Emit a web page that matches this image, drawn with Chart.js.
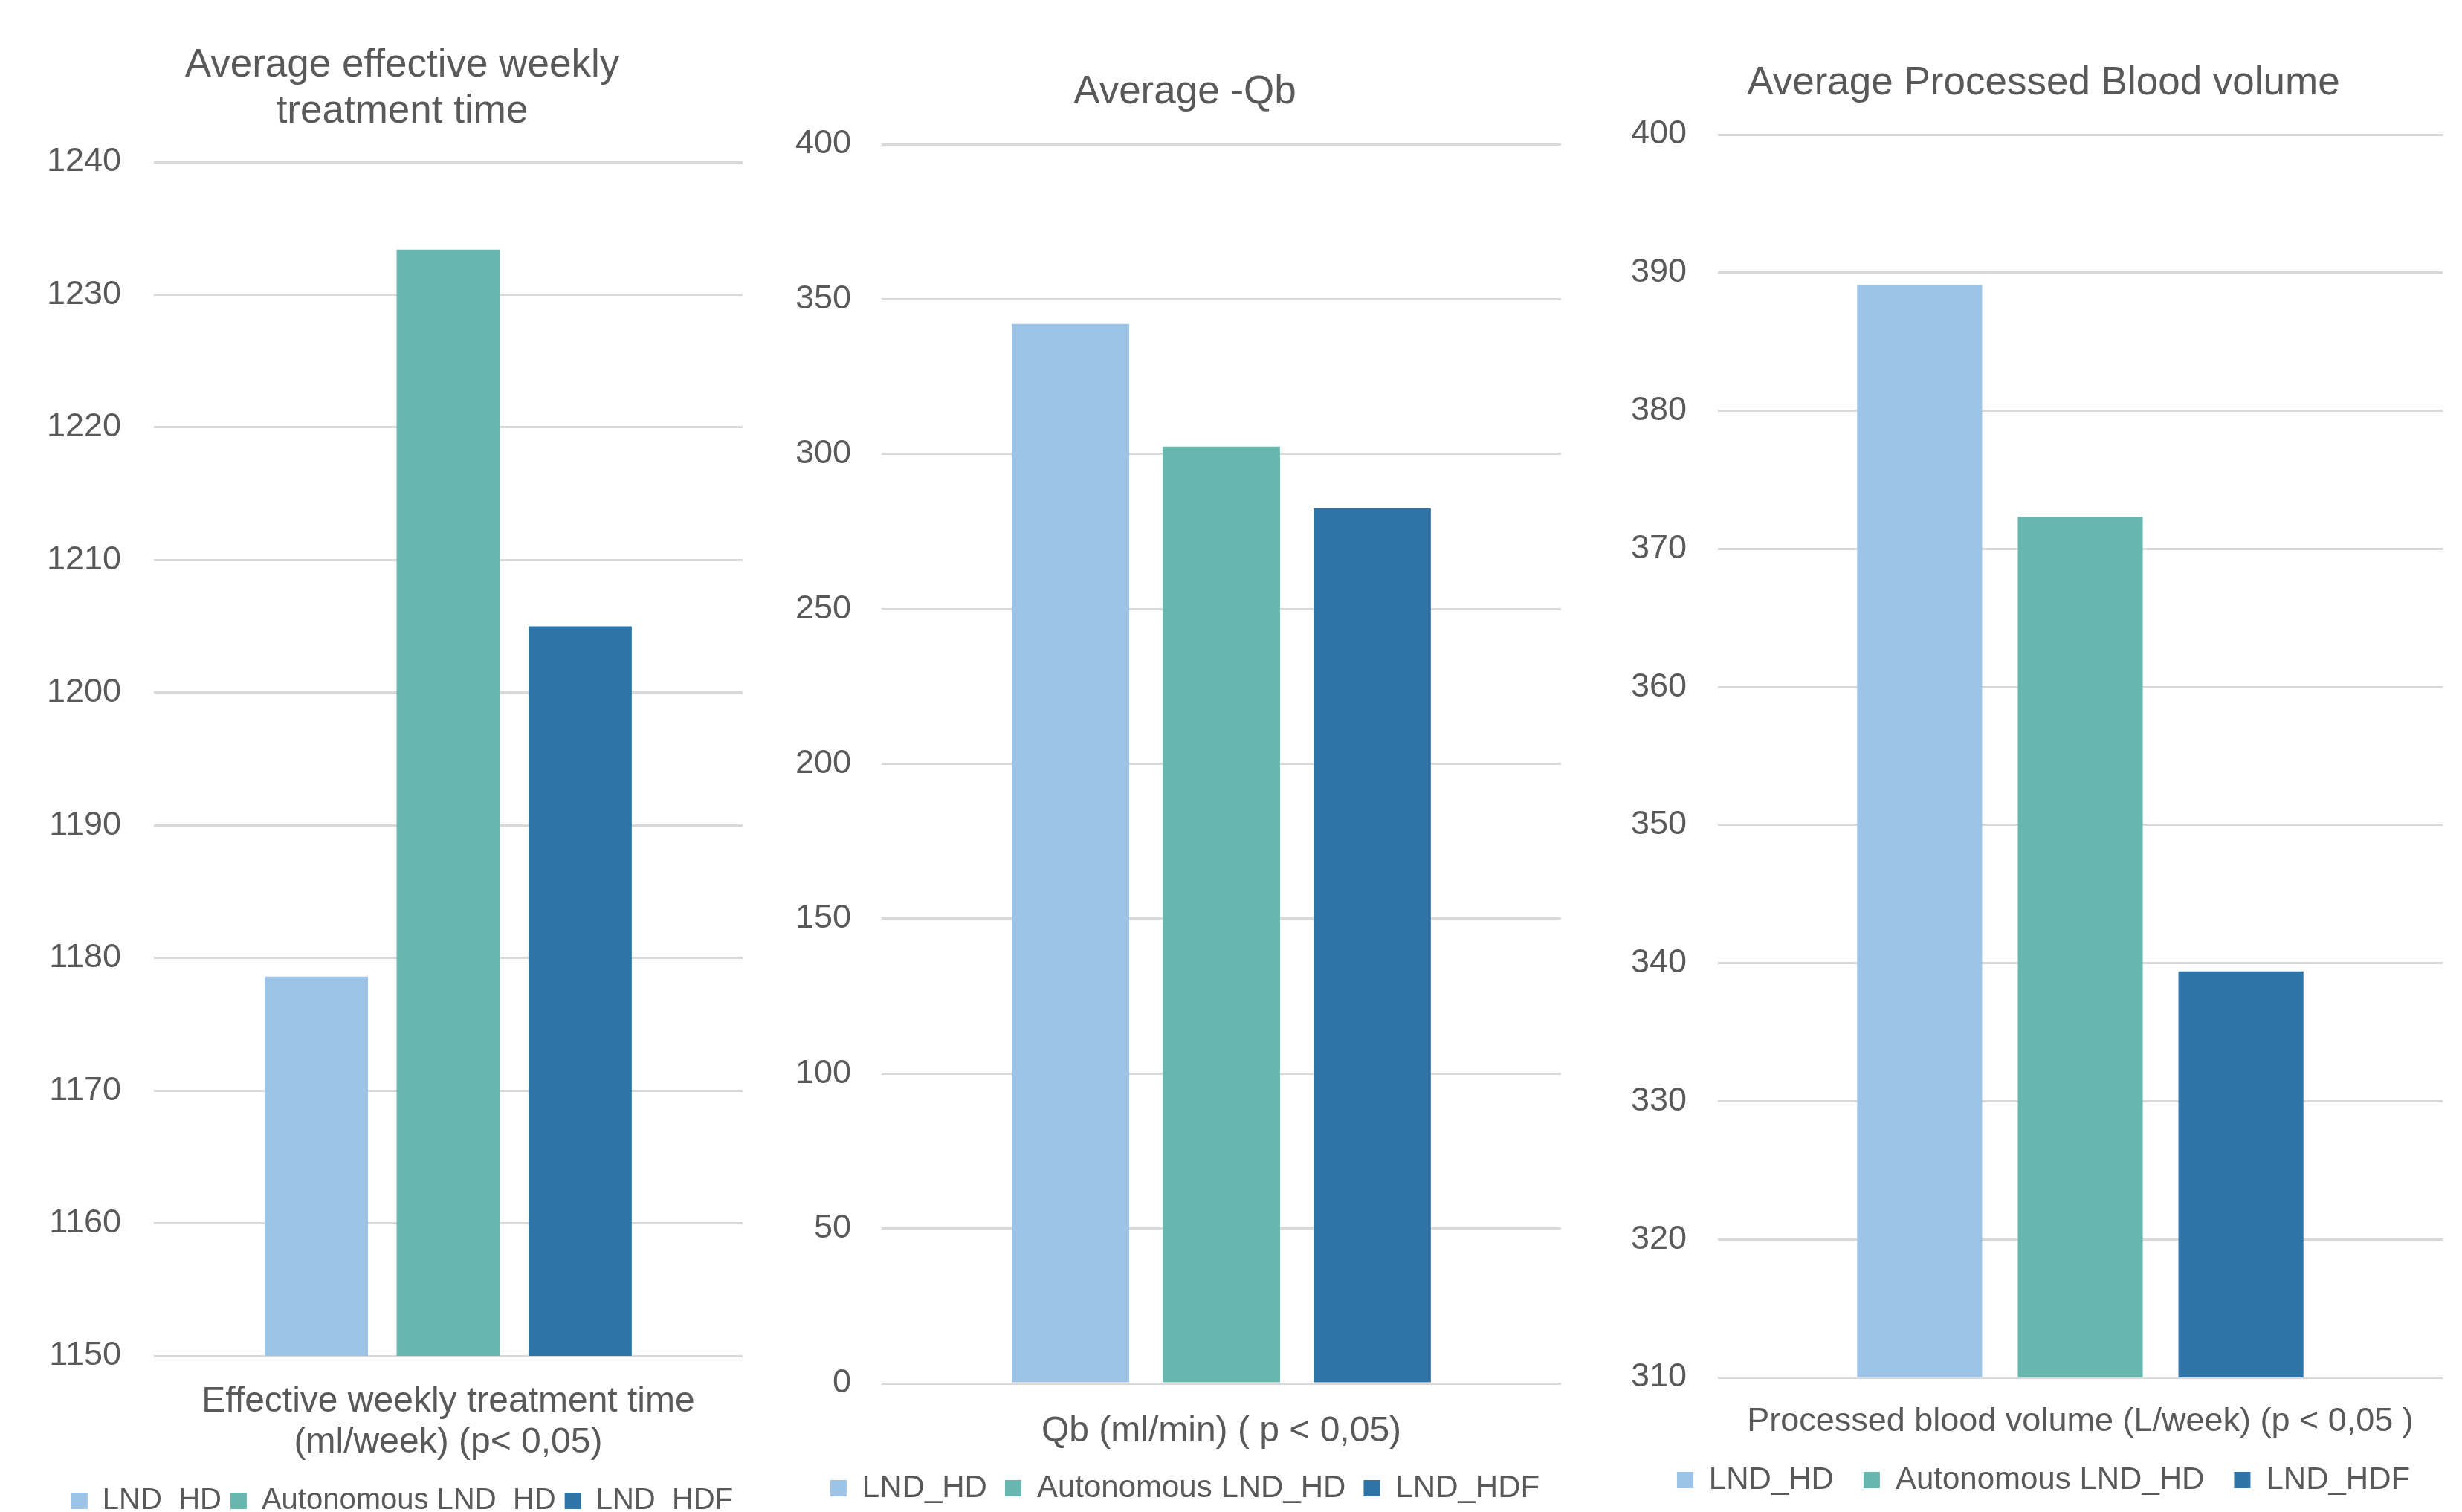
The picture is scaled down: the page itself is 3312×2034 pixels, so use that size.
<!DOCTYPE html>
<html>
<head>
<meta charset="utf-8">
<title>Dialysis treatment averages</title>
<script src="https://cdn.jsdelivr.net/npm/chart.js@4/dist/chart.umd.min.js"></script>
<style>
  html, body { margin: 0; padding: 0; background: #ffffff; }
  body { width: 3312px; height: 2034px; position: relative; overflow: hidden; }
  canvas { position: absolute; top: 0; }
</style>
</head>
<body>
<canvas id="timeChart"></canvas>
<canvas id="qbChart"></canvas>
<canvas id="volumeChart"></canvas>
<script>
// Series shared by the three panels
const seriesNames = ['LND_HD', 'Autonomous LND_HD', 'LND_HDF'];
const seriesColors = ['#9DC3E6', '#67B7AE', '#2E74A6'];

// Panel 1: effective weekly treatment time
const timeTitle = ['Average effective weekly', 'treatment time'];
const timeCategories = [['Effective weekly treatment time', '(ml/week) (p< 0,05)']];
const timeValues = [1178.6, 1233.4, 1205.0];
const timeTicks = [1150, 1160, 1170, 1180, 1190, 1200, 1210, 1220, 1230, 1240];

// Panel 2: blood flow Qb
const qbTitle = 'Average -Qb';
const qbCategories = ['Qb (ml/min) ( p < 0,05)'];
const qbValues = [342.0, 302.4, 282.4];
const qbTicks = [0, 50, 100, 150, 200, 250, 300, 350, 400];

// Panel 3: processed blood volume
const volumeTitle = 'Average Processed Blood volume';
const volumeCategories = ['Processed blood volume (L/week) (p < 0,05 )'];
const volumeValues = [389.1, 372.3, 339.4];
const volumeTicks = [310, 320, 330, 340, 350, 360, 370, 380, 390, 400];

const FONT = "'Liberation Sans', Arial, Helvetica, sans-serif";
const TEXT = '#595959';
const GRID = '#d9d9d9';

// Tick labels are clipped to their scale box; widen the boxes after layout
// so the long axis labels are drawn in full (chart area is unaffected).
const roomForLabels = {
  id: 'roomForLabels',
  afterLayout(chart) {
    chart.scales.y.left = 0;
    chart.scales.x.bottom = chart.height;
  }
};

function drawPanel(id, title, categories, values, ticks, g) {
  const canvas = document.getElementById(id);
  canvas.width = g.width;
  canvas.height = g.height;
  canvas.style.left = g.left + 'px';
  canvas.style.width = g.width + 'px';
  canvas.style.height = g.height + 'px';

  const datasets = seriesNames.map((name, i) => ({
    label: name,
    data: [values[i]],
    backgroundColor: seriesColors[i],
    borderWidth: 0,
    barPercentage: g.barPct,
    categoryPercentage: g.catPct
  }));

  return new Chart(canvas, {
    type: 'bar',
    data: { labels: categories, datasets },
    plugins: [roomForLabels],
    options: {
      responsive: false,
      animation: false,
      devicePixelRatio: 1,
      layout: { padding: { left: g.padLeft, right: 0, top: 0, bottom: 0 } },
      plugins: {
        tooltip: { enabled: false },
        title: {
          display: true,
          text: title,
          color: TEXT,
          font: { family: FONT, size: 53, weight: 'normal', lineHeight: 1.17 },
          padding: { top: g.titleTop, bottom: g.titleBottom }
        },
        legend: {
          position: 'bottom',
          labels: {
            color: TEXT,
            font: { family: FONT, size: g.legendSize },
            boxWidth: 22,
            boxHeight: 22,
            padding: g.legendPad
          }
        }
      },
      scales: {
        x: {
          grid: { display: false },
          border: { display: false },
          ticks: {
            color: TEXT,
            font: { family: FONT, size: g.catSize, lineHeight: 1.15 },
            padding: g.catPad,
            maxRotation: 0,
            minRotation: 0,
            autoSkip: false
          },
          afterFit: (scale) => { scale.height = g.xHeight; }
        },
        y: {
          min: ticks[0],
          max: ticks[ticks.length - 1],
          afterBuildTicks: (scale) => { scale.ticks = ticks.map(v => ({ value: v })); },
          grid: { color: GRID, lineWidth: 3, drawTicks: false },
          border: { display: false },
          ticks: {
            color: TEXT,
            font: { family: FONT, size: 45 },
            padding: g.tickPad,
            callback: (v) => String(v)
          },
          afterFit: (scale) => { scale.width = g.yWidth; }
        }
      }
    }
  });
}

drawPanel('timeChart', timeTitle, timeCategories, timeValues, timeTicks, {
  left: 0, width: 999, height: 2049, padLeft: 83, yWidth: 124, tickPad: 44,
  titleTop: 57, titleBottom: 37, xHeight: 163, catSize: 48, catPad: 26,
  legendSize: 40, legendPad: 12, barPct: 0.783, catPct: 0.672
});

drawPanel('qbChart', qbTitle, qbCategories, qbValues, qbTicks, {
  left: 1040, width: 1060, height: 2033, padLeft: 48, yWidth: 98, tickPad: 41,
  titleTop: 93, titleBottom: 39, xHeight: 96, catSize: 48, catPad: 29,
  legendSize: 42, legendPad: 24, barPct: 0.778, catPct: 0.666
});

drawPanel('volumeChart', volumeTitle, volumeCategories, volumeValues, volumeTicks, {
  left: 2150, width: 1136, height: 2022, padLeft: 62, yWidth: 99, tickPad: 42,
  titleTop: 81, titleBottom: 38, xHeight: 77, catSize: 45, catPad: 26,
  legendSize: 42, legendPad: 40, barPct: 0.778, catPct: 0.665
});
</script>
</body>
</html>
